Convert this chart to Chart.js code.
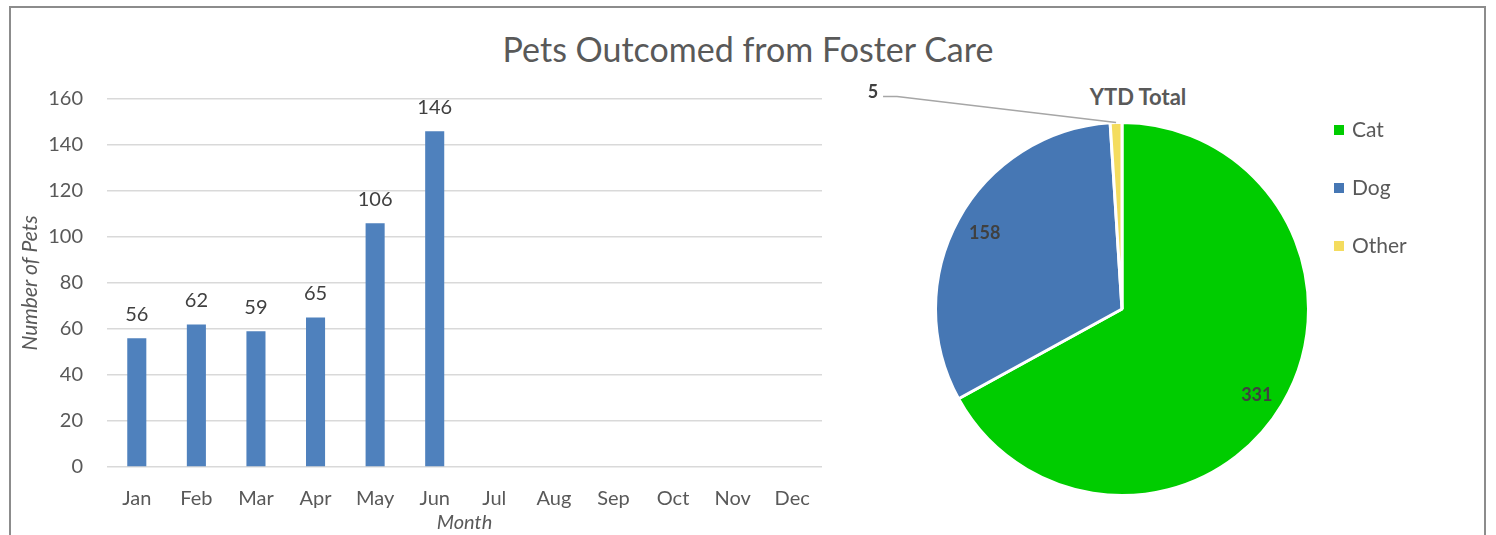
<!DOCTYPE html>
<html>
<head>
<meta charset="utf-8">
<script src="https://cdn.jsdelivr.net/npm/chart.js@4.4.0/dist/chart.umd.min.js"></script>
<style>
  html, body { margin: 0; padding: 0; background: #fff; width: 1496px; height: 535px; overflow: hidden; font-family: Lato, sans-serif; }
  .frame { position: absolute; left: 9px; top: 6px; width: 1477px; height: 560px; border: 2px solid #8c8c8c; box-sizing: border-box; }
  .title { position: absolute; left: 0; width: 1496px; top: 28px; text-align: center; font-size: 34px; color: #595959; }
  .pie-title { position: absolute; left: 1038px; width: 200px; top: 83px; text-align: center; font-size: 22px; font-weight: bold; color: #595959; }
  #barBox { position: absolute; left: 10px; top: 63px; width: 830px; height: 472px; }
  #pieBox { position: absolute; left: 840px; top: 60px; width: 600px; height: 475px; }
  #legend { position: absolute; left: 1334px; top: 116px; font-size: 21px; color: #595959; }
  #legend div { height: 58px; display: flex; align-items: flex-start; }
  #legend span.sw { display: inline-block; width: 10px; height: 10px; margin: 9px 8px 0 0; }
</style>
</head>
<body>
<div class="frame"></div>
<div class="title">Pets Outcomed from Foster Care</div>
<div class="pie-title">YTD Total</div>
<div id="barBox"><canvas id="barChart"></canvas></div>
<div id="pieBox"><canvas id="pieChart"></canvas></div>
<div id="legend"></div>
<script>
// 月度数据
var months = ['Jan','Feb','Mar','Apr','May','Jun','Jul','Aug','Sep','Oct','Nov','Dec'];
var monthValues = [56, 62, 59, 65, 106, 146, null, null, null, null, null, null];
var yTicks = [0, 20, 40, 60, 80, 100, 120, 140, 160];

// 年度累计
var petTypes = ['Cat', 'Dog', 'Other'];
var petTotals = [331, 158, 5];
var petColors = ['#00cc00', '#4677b4', '#f4dc5e'];

Chart.defaults.font.family = 'Lato, sans-serif';
Chart.defaults.color = '#595959';

/** 柱顶数值标签 */
var barLabels = {
  id: 'barLabels',
  afterDatasetsDraw: function(chart) {
    var ctx = chart.ctx;
    var meta = chart.getDatasetMeta(0);
    ctx.save();
    ctx.font = '20px Lato, sans-serif';
    ctx.fillStyle = '#404040';
    ctx.textAlign = 'center';
    ctx.textBaseline = 'bottom';
    meta.data.forEach(function(bar, i) {
      var v = chart.data.datasets[0].data[i];
      if (v == null) return;
      ctx.fillText(String(v), bar.x, bar.y - 14);
    });
    ctx.restore();
  }
};

/** 饼图数值标签, 小扇区放外侧带引线 */
var pieLabels = {
  id: 'pieLabels',
  afterDatasetsDraw: function(chart) {
    var ctx = chart.ctx;
    var meta = chart.getDatasetMeta(0);
    ctx.save();
    ctx.font = 'bold 18px Lato, sans-serif';
    ctx.fillStyle = '#404040';
    ctx.textAlign = 'center';
    ctx.textBaseline = 'middle';
    meta.data.forEach(function(arc, i) {
      var v = chart.data.datasets[0].data[i];
      var mid = (arc.startAngle + arc.endAngle) / 2;
      if (v < 20) {
        // 引线
        var ax = arc.x + Math.cos(mid) * arc.outerRadius;
        var ay = arc.y + Math.sin(mid) * arc.outerRadius;
        var lx = ax - 243, ly = ay - 30;
        ctx.strokeStyle = '#a6a6a6';
        ctx.lineWidth = 1.5;
        ctx.beginPath();
        ctx.moveTo(ax, ay);
        ctx.lineTo(lx + 24, ly + 4);
        ctx.lineTo(lx + 10, ly + 4);
        ctx.stroke();
        ctx.fillText(String(v), lx, ly);
      } else {
        var r = arc.outerRadius * 0.84;
        ctx.fillText(String(v), arc.x + Math.cos(mid) * r, arc.y + Math.sin(mid) * r + (i === 0 ? 6 : 0));
      }
    });
    ctx.restore();
  }
};

new Chart(document.getElementById('barChart'), {
  type: 'bar',
  data: {
    labels: months,
    datasets: [{
      data: monthValues,
      backgroundColor: '#4f81bd',
      categoryPercentage: 1,
      barPercentage: 0.32
    }]
  },
  options: {
    responsive: true,
    maintainAspectRatio: false,
    animation: false,
    layout: { padding: { top: 1, right: 18, left: 0, bottom: 0 } },
    plugins: { legend: { display: false }, tooltip: { enabled: false } },
    scales: {
      x: {
        grid: { display: false },
        border: { display: false },
        ticks: { font: { size: 20 }, color: '#595959', padding: 12 },
        title: { display: true, text: 'Month', font: { size: 20, style: 'italic' }, color: '#595959', padding: { top: 0, bottom: 0 } },
        afterFit: function(s) { s.height = 68; }
      },
      y: {
        min: yTicks[0],
        max: yTicks[yTicks.length - 1],
        afterBuildTicks: function(s) { s.ticks = yTicks.map(function(v) { return { value: v }; }); },
        grid: { color: '#d9d9d9', lineWidth: 1.5, drawTicks: false },
        border: { display: false },
        ticks: { font: { size: 20 }, color: '#595959', padding: 24 },
        title: { display: true, text: 'Number of Pets', font: { size: 21, style: 'italic' }, color: '#595959', padding: { top: 8, bottom: 0 } },
        afterFit: function(s) { s.width = 97; }
      }
    }
  },
  plugins: [barLabels]
});

new Chart(document.getElementById('pieChart'), {
  type: 'pie',
  data: {
    labels: petTypes,
    datasets: [{
      data: petTotals,
      backgroundColor: petColors,
      borderColor: '#ffffff',
      borderWidth: 3
    }]
  },
  options: {
    responsive: true,
    maintainAspectRatio: false,
    animation: false,
    layout: { padding: { left: 94, right: 130, top: 61, bottom: 38 } },
    plugins: { legend: { display: false }, tooltip: { enabled: false } }
  },
  plugins: [pieLabels]
});

// 图例
var lg = document.getElementById('legend');
petTypes.forEach(function(name, i) {
  var row = document.createElement('div');
  var sw = document.createElement('span');
  sw.className = 'sw';
  sw.style.background = petColors[i];
  row.appendChild(sw);
  row.appendChild(document.createTextNode(name));
  lg.appendChild(row);
});
</script>
</body>
</html>
